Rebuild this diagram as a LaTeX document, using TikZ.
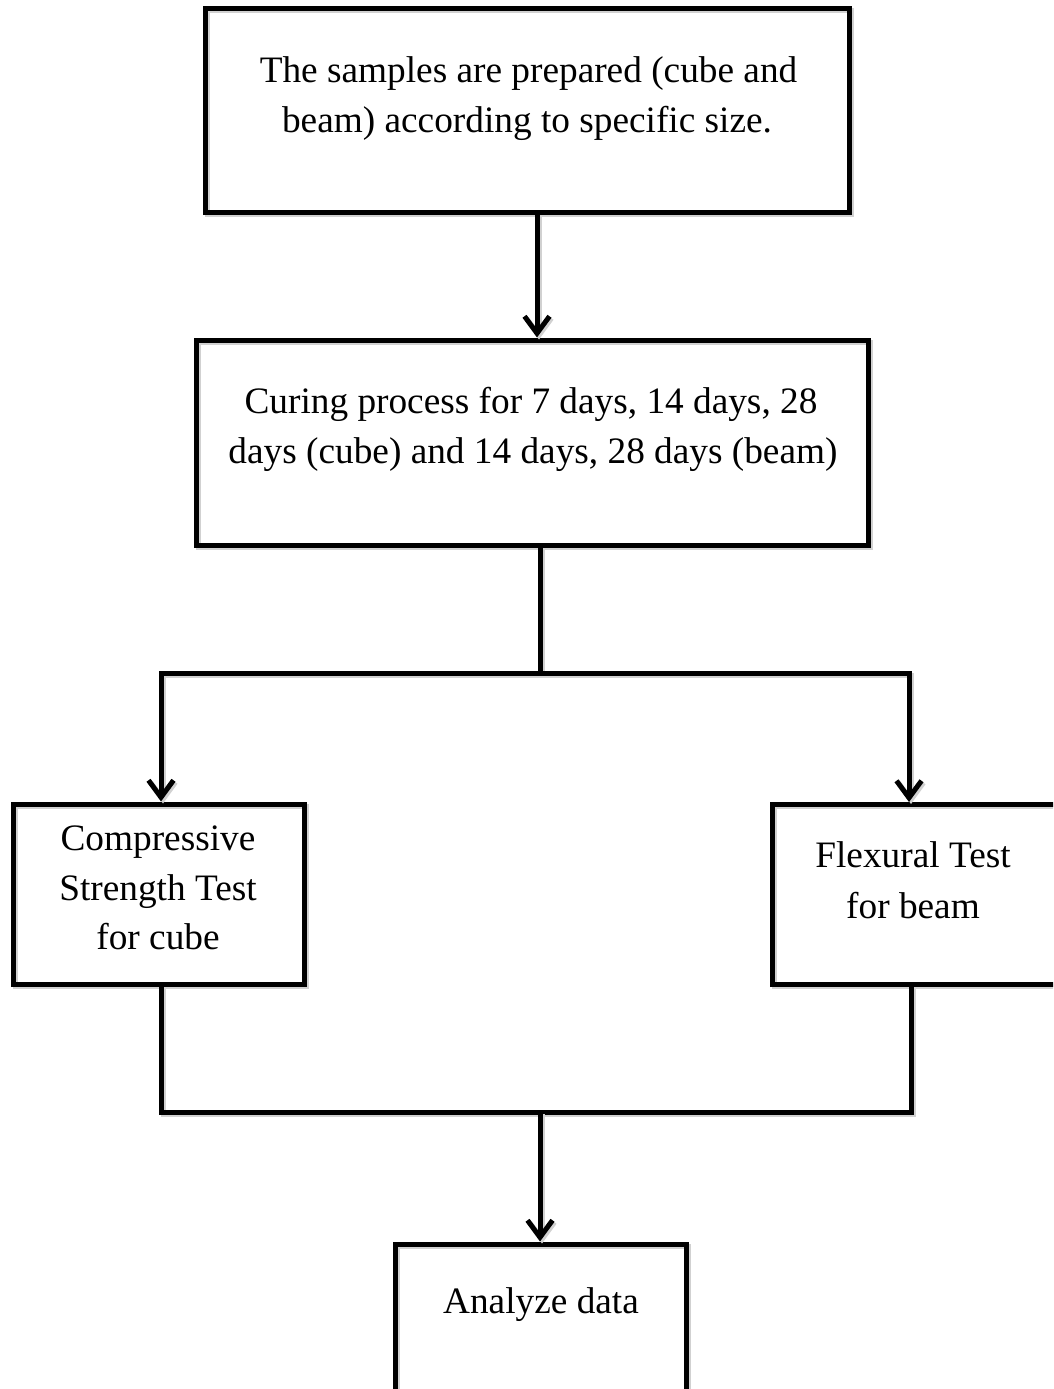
\documentclass[tikz,border=0pt]{standalone}
\usepackage{fontspec}
\setmainfont{Liberation Serif}
\usetikzlibrary{arrows.meta}
\begin{document}
\begin{tikzpicture}[x=1pt,y=-1pt,
  shade/.style={preaction={draw=black!18, line width=5pt, transform canvas={shift={(2pt,-2pt)}}}},
  box/.style={draw, line width=5pt, inner sep=0pt, minimum width=#1},
  ln/.style={line width=5pt, shade},
  arr/.style={line width=5pt, shade, -{Straight Barb[length=17pt,width=25pt,line width=5pt]}},
  txt/.style={anchor=base, inner sep=0pt, font=\fontsize{37.3}{50}\selectfont}]
\useasboundingbox (0,0) rectangle (1053,1389);
\clip (0,0) rectangle (1053,1389);
\fill[white] (0,0) rectangle (1053,1389);
% boxes
\node[box=644pt, minimum height=203pt, shade] (b1) at (527,110.5) {};
\node[box=672pt, minimum height=205pt, shade] (b2) at (532,442.5) {};
\node[box=291pt, minimum height=180pt, shade] (b3) at (158.5,894) {};
\node[box=313pt, minimum height=180pt, shade] (b4) at (928.5,894.5) {};
\node[box=291pt, minimum height=200pt, shade] (b5) at (540.5,1344) {};
% texts
\node[txt] (t1a) at (528.5,82) {The samples are prepared (cube and};
\node[txt] (t1b) at (527,132) {beam) according to specific size.};
\node[txt] (t2a) at (531,413) {Curing process for 7 days, 14 days, 28};
\node[txt] (t2b) at (533,463) {days (cube) and 14 days, 28 days (beam)};
\node[txt] (t3a) at (158,850) {Compressive};
\node[txt] (t3b) at (158,900) {Strength Test};
\node[txt] (t3c) at (158,949) {for cube};
\node[txt] (t4a) at (913,867) {Flexural Test};
\node[txt] (t4b) at (913,918) {for beam};
\node[txt] (t5a) at (541,1313) {Analyze data};
% junction coordinates
\coordinate (xa) at (537,0);
\coordinate (jM) at (540,673);
\coordinate (jL) at (161,673);
\coordinate (jR) at (909,673);
\coordinate (kM) at (540,1112);
\coordinate (kL) at (161,1112);
\coordinate (kR) at (911,1112);
% connectors
\draw[arr] (xa |- b1.south) -- (xa |- b2.north);
\draw[ln] (jM |- b2.south) -- (jM);
\draw[arr] (jM) -- (jL) -- (jL |- b3.north);
\draw[arr] (jM) -- (jR) -- (jR |- b4.north);
\draw[ln] (kL |- b3.south) -- (kL) -- (kR) -- (kR |- b4.south);
\draw[arr] (kM) -- (kM |- b5.north);
\end{tikzpicture}
\end{document}
